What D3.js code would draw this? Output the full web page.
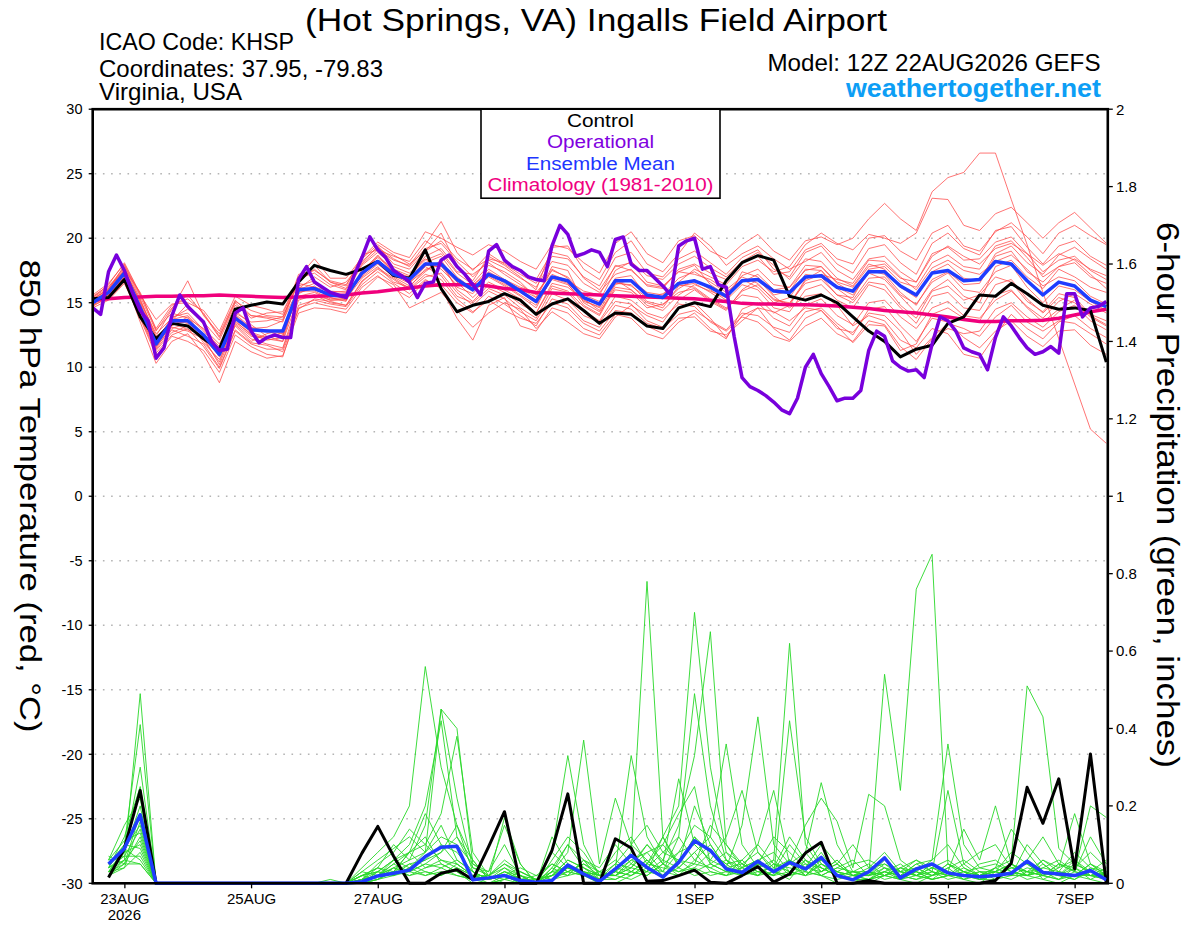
<!DOCTYPE html>
<html>
<head>
<meta charset="utf-8">
<script src="https://cdn.jsdelivr.net/npm/d3@7"></script>
<style>
body { margin: 0; background: #fff; }
svg { display: block; font-family: "Liberation Sans", Arial, sans-serif; }
</style>
</head>
<body>
<div id="chart"></div>
<script>
var width = 1200;
var height = 927;

// GEFS run 12Z 22AUG2026, 384 h
var runStart = Date.UTC(2026, 7, 22, 12);
var HOUR = 3600 * 1000;

var tempHours = d3.range(0, 385, 6);     // 65 steps
var operHours = d3.range(0, 385, 3);     // 129 steps (operational is 3-hourly)
var precipHours = d3.range(6, 385, 6);   // 64 steps

var tickDates = [
    new Date(Date.UTC(2026, 7, 23)), new Date(Date.UTC(2026, 7, 25)),
    new Date(Date.UTC(2026, 7, 27)), new Date(Date.UTC(2026, 7, 29)),
    new Date(Date.UTC(2026, 8, 1)), new Date(Date.UTC(2026, 8, 3)),
    new Date(Date.UTC(2026, 8, 5)), new Date(Date.UTC(2026, 8, 7))
];
var tempTicks = d3.range(-30, 31, 5);
var precipTicks = d3.range(0, 2.01, 0.2);

// 850 hPa temperature (C)
var tempControl = [15.3,15.4,16.8,13.9,12.2, 13.4,13.2,12.2,11.4,14.5, 14.8,15.05,14.9,16.6,17.9,
    17.5,17.2,17.6,18.2,17.1, 16.9,19.1,16.1,14.3,14.8, 15.1,15.7,15.2,14.1,14.9,
    15.3,14.4,13.4,14.2,14.1, 13.2,13.0,14.6,15.0,14.7, 16.7,18.1,18.65,18.3,15.5,
    15.2,15.6,15.0,13.9,12.8, 12.0,10.8,11.4,11.7,13.4, 13.9,15.6,15.5,16.5,15.7,
    14.8,14.5,14.6,14.4,10.4];

var tempMean = [15.0,15.8,17.3,14.6,11.8, 13.6,13.6,12.5,11.0,13.8, 12.9,12.8,12.8,16.0,16.1,
    15.6,15.5,17.3,18.2,17.2, 16.8,18.0,18.0,16.8,16.0, 17.2,16.7,15.9,15.1,17.0,
    16.7,15.4,14.9,16.7,16.7, 15.6,15.4,16.5,16.7,16.2, 15.5,16.7,16.8,15.9,15.8,
    17.0,17.1,16.2,15.9,17.4, 17.4,16.3,15.6,17.3,17.5, 16.7,16.8,18.2,18.0,16.7,
    15.6,16.6,16.3,15.2,14.7];

var tempClimo = [15.2,15.3,15.4,15.45,15.5, 15.5,15.55,15.55,15.6,15.55, 15.5,15.45,15.4,15.45,15.5,
    15.55,15.6,15.75,15.85,16.0, 16.15,16.3,16.4,16.4,16.4, 16.3,16.1,16.0,15.8,15.75,
    15.7,15.65,15.6,15.55,15.5, 15.45,15.4,15.35,15.3,15.2, 15.1,14.95,14.9,14.9,14.85,
    14.85,14.8,14.75,14.65,14.55, 14.4,14.3,14.2,14.05,13.9, 13.7,13.55,13.55,13.6,13.6,
    13.65,13.8,14.05,14.3,14.5];

var tempOper = [14.6,14.1,17.4,18.7,17.5,15.8,14.4,13.6,10.7,11.5,
    14.0,15.6,14.7,14.1,13.5,12.0,11.3,11.4,14.2,14.6,
    12.8,11.9,12.3,12.5,12.3,12.3,16.8,17.8,16.6,16.2,
    15.8,15.6,15.4,17.1,18.5,20.1,19.1,18.5,17.5,17.1,
    16.6,15.4,16.5,16.6,18.3,18.7,17.8,17.2,16.4,15.6,
    19.0,19.5,18.3,17.8,17.5,17.0,16.8,16.7,19.4,21.0,
    20.3,18.6,18.8,19.1,18.9,17.8,19.9,20.1,18.0,17.5,
    17.5,16.9,16.3,15.6,19.4,19.8,20.0,17.6,17.8,16.4,
    16.2,12.4,9.2,8.5,8.2,7.8,7.3,6.7,6.4,7.6,
    10.0,11.0,9.5,8.5,7.4,7.6,7.6,8.2,11.3,12.8,
    12.4,10.5,10.0,9.7,9.8,9.2,11.8,13.9,13.6,12.8,
    11.5,11.2,11.0,9.8,12.3,13.9,13.2,12.3,11.5,11.0,
    11.2,11.6,11.1,15.7,15.7,13.9,14.6,14.7,15.1];

var tempMembers = [
    [15.4,16.2,17.8,15.3,12.4, 14.5,16.7,14.0,12.6,15.2, 14.0,13.8,13.5,16.9,17.3, 16.4,16.0,18.0,19.1,18.3, 17.9,19.5,21.3,18.9,17.5, 18.8,18.0,17.2,16.5,18.6, 18.4,17.0,16.3,18.5,18.9, 17.3,17.0,18.4,19.0,18.1, 17.2,18.5,19.1,17.6,17.0, 18.9,19.4,18.0,17.3,19.2, 19.5,18.1,17.2,19.6,20.4, 19.2,18.7,20.6,20.9,19.3, 18.0,19.4,19.8,18.6,17.9],
    [14.8,15.3,16.6,13.8,10.9, 12.4,12.0,11.3,9.6,12.5, 11.6,11.0,10.8,14.6,15.0, 14.7,14.5,16.2,17.1,16.1, 15.4,16.7,16.4,15.0,14.2, 15.5,14.9,14.0,13.2,15.3, 14.9,13.6,13.1,14.8,14.5, 13.4,13.0,14.1,14.4,13.6, 12.9,14.2,14.0,13.1,12.7, 14.3,14.6,13.4,12.5,14.5, 14.7,13.2,12.0,13.8,13.5, 12.3,11.5,12.8,13.6,12.4, 11.6,12.8,12.9,11.7,11.0],
    [15.1,15.9,17.5,14.2,11.6, 13.0,13.4,12.1,10.4,13.6, 12.5,12.3,12.5,15.7,16.3, 15.4,15.1,17.6,18.5,17.5, 16.9,18.6,19.2,17.7,16.5, 17.9,17.4,16.6,15.4,17.8, 17.5,15.0,14.3,16.0,15.8, 14.6,14.9,15.8,16.1,15.2, 14.5,15.9,16.4,15.3,14.9, 16.8,17.5,16.1,15.2,16.9, 17.0,15.6,14.9,16.6,17.3, 16.0,15.8,17.4,17.9,16.2, 15.0,16.3,16.0,15.1,14.4],
    [15.6,16.5,18.0,15.6,13.7, 14.9,15.0,14.4,12.8,15.5, 14.8,14.5,14.1,17.0,18.4, 16.9,16.9,18.5,19.7,18.9, 18.5,20.5,20.0,19.3,18.7, 19.5,19.0,18.2,17.6,19.5, 19.2,18.1,17.3,19.6,20.5, 18.8,18.1,19.8,20.2,19.0, 18.4,19.5,20.3,19.0,18.3, 19.8,20.1,19.5,20.0,21.5, 22.7,21.5,20.6,23.6,24.7, 25.1,26.6,26.6,23.0,19.5, 15.8,12.2,8.7,5.2,4.1],
    [15.2,15.6,16.9,13.5,10.3, 12.0,12.6,11.0,8.8,12.0, 11.2,10.7,10.9,14.2,14.6, 14.5,14.2,15.8,17.0,16.4, 14.6,15.2,15.8,14.4,13.1, 14.2,15.0,14.5,13.0,14.3, 13.5,12.6,12.2,13.9,14.8, 14.0,13.5,15.2,16.0,15.1, 14.4,16.0,16.8,15.5,14.6, 15.5,15.7,14.8,13.2,14.0, 13.6,12.1,11.5,13.0,12.6, 11.0,10.7,12.5,14.1,13.0, 12.2,13.5,14.0,13.0,12.3],
    [14.9,15.7,17.1,14.9,12.0, 13.9,14.2,12.9,11.6,14.4, 13.3,12.4,12.0,16.3,16.7, 15.8,15.9,17.0,18.0,17.0, 16.3,17.4,18.3,16.6,15.4, 16.6,16.0,15.3,14.2,16.5, 16.2,15.2,14.6,16.8,16.0, 15.0,14.6,16.3,16.5,15.8, 15.0,17.4,17.0,15.6,15.9, 17.6,17.5,16.2,15.6,17.3, 16.8,15.5,14.2,16.0,16.8, 15.5,15.0,17.8,18.3,17.0, 16.1,17.6,17.0,16.2,15.8],
    [15.3,16.0,17.6,15.8,12.9, 14.2,13.8,13.0,11.8,14.2, 13.5,13.6,13.9,16.5,16.2, 15.9,15.8,17.9,18.9,17.8, 17.3,18.4,17.6,16.4,16.3, 17.6,16.8,16.2,15.8,17.2, 16.7,15.9,15.6,17.9,17.5, 16.4,16.2,17.4,17.2,16.8, 16.0,17.0,16.5,15.2,15.0, 16.5,16.8,15.6,15.4,17.6, 17.8,16.6,16.2,18.1,18.7, 17.8,17.6,19.4,19.8,18.5, 17.0,17.8,18.4,17.6,17.1],
    [15.0,15.4,16.8,14.0,11.3, 12.7,13.2,12.3,10.2,13.3, 12.2,11.8,11.5,15.2,15.6, 15.0,14.8,16.7,17.6,16.8, 16.0,17.0,17.3,15.8,14.8, 15.9,15.3,14.3,13.6,15.7, 15.2,14.0,13.5,15.1,14.9, 13.6,13.1,14.6,15.0,13.8, 12.3,14.0,14.6,13.0,12.1, 13.8,14.4,13.2,11.9,13.3, 13.2,11.3,11.8,14.1,14.6, 13.8,13.6,15.6,16.0,14.6, 13.5,14.5,15.2,14.0,13.3],
    [15.5,16.3,17.4,15.1,12.6, 13.8,14.5,13.5,12.1,14.8, 14.0,13.9,13.7,17.2,17.5, 16.7,16.4,18.2,19.3,18.4, 17.8,19.2,19.6,18.2,17.0, 18.3,17.7,16.9,16.2,18.2, 17.9,16.5,15.8,17.2,17.6, 16.3,16.1,17.6,18.0,17.3, 16.8,18.1,18.6,17.2,17.4, 19.1,19.6,18.4,18.0,20.0, 20.2,19.0,18.3,20.4,21.0, 19.4,19.0,20.5,21.2,20.1, 18.8,20.4,21.0,20.2,19.5],
    [14.7,15.5,16.9,14.5,11.7, 13.3,13.6,11.9,10.6,13.2, 12.0,12.6,12.9,15.5,15.8, 15.2,15.3,16.9,17.8,16.6, 16.2,17.6,17.9,16.2,15.7, 17.1,16.4,15.6,14.8,16.9, 16.5,14.8,14.1,16.4,16.8, 15.8,15.6,16.9,17.4,16.6, 15.8,16.8,16.2,15.0,15.4, 17.2,17.0,15.6,15.0,16.6, 16.4,14.8,13.8,15.9,16.3, 15.2,15.6,17.0,16.6,15.1, 14.3,15.7,15.4,14.1,13.6],
    [15.2,15.8,17.2,14.4,11.9, 13.1,12.8,12.2,10.9,13.5, 12.6,12.1,12.3,15.9,15.9, 15.3,15.4,17.1,18.2,17.1, 16.5,17.8,17.1,15.5,15.0, 16.1,15.6,14.6,13.8,16.1, 15.8,14.4,13.6,15.5,15.2, 14.2,13.8,14.9,14.7,13.5, 12.8,13.9,13.5,12.4,12.0, 13.2,13.8,12.6,12.0,13.6, 13.3,11.6,10.6,12.2,13.0, 12.6,12.8,14.5,15.0,13.9, 13.1,14.3,14.8,13.6,12.9],
    [15.3,16.1,17.7,15.0,12.2, 13.6,14.9,13.3,11.2,14.0, 13.0,13.1,13.6,16.1,17.0, 16.2,16.6,18.1,19.4,18.0, 17.6,19.0,20.4,17.9,16.7, 18.6,17.9,17.0,16.0,19.3, 19.4,17.6,16.8,18.9,19.8, 18.0,17.4,18.8,20.4,19.4, 17.9,18.8,19.4,18.4,17.6, 18.2,18.9,17.5,16.8,18.4, 18.6,17.4,16.6,18.8,19.3, 18.3,18.4,19.7,20.1,18.8, 17.4,18.3,18.6,17.5,16.8],
    [14.6,15.2,16.5,13.9,11.1, 12.5,13.0,11.6,9.9,12.8, 11.8,11.4,11.4,14.8,15.2, 14.9,14.7,16.4,17.4,16.5, 15.7,16.8,16.1,13.8,12.1, 14.8,15.4,13.2,12.8,14.6, 14.2,13.0,12.5,14.1,13.8, 12.6,12.2,13.5,14.2,13.0, 12.2,14.5,15.0,13.8,13.2, 14.8,15.3,14.0,13.3,15.0, 15.2,13.9,13.0,14.6,15.1, 14.0,13.8,15.2,15.9,14.7, 13.8,15.1,15.7,14.9,14.2],
    [15.1,16.0,17.9,15.5,12.8, 14.6,15.6,14.1,12.3,15.0, 13.8,14.2,14.3,16.8,17.9, 16.6,16.3,18.7,19.1,18.6, 18.2,19.8,19.0,17.4,17.2, 18.1,17.2,16.4,15.6,17.5, 17.0,15.6,15.1,17.5,18.2, 17.1,16.8,18.0,18.6,17.7, 17.0,18.2,18.9,17.9,16.8, 18.4,18.2,16.9,16.3,18.0, 17.6,16.2,15.4,17.4,18.0, 16.9,16.7,18.8,19.4,18.1, 17.2,18.7,19.3,18.4,17.6],
    [15.0,15.6,17.0,14.6,11.6, 13.4,13.5,12.6,11.3,13.9, 12.8,12.9,12.6,16.0,16.5, 15.7,15.2,17.4,18.7,17.3, 16.8,18.1,18.6,17.0,16.1, 17.4,16.7,16.1,15.4,17.6, 16.9,15.4,14.8,16.9,17.1, 15.5,15.3,16.6,17.6,17.0, 16.4,17.8,18.3,17.4,17.8, 19.5,20.4,19.6,19.1,20.3, 20.0,19.6,20.4,23.1,23.0, 21.0,20.6,21.9,22.4,21.2, 20.0,21.2,22.0,20.8,19.6],
    [14.9,15.9,17.3,14.8,12.1, 13.7,14.0,12.8,11.4,14.1, 13.1,12.8,12.4,16.2,16.0, 15.6,15.5,17.3,18.3,17.4, 17.0,17.9,17.8,16.6,15.9, 17.0,16.3,15.5,14.6,17.0, 16.6,15.3,14.4,16.5,16.4, 15.1,14.8,16.1,16.8,16.0, 15.2,16.4,16.0,14.6,14.3, 16.0,16.4,15.2,14.6,16.4, 16.0,14.6,13.4,15.5,15.8, 14.6,14.4,16.4,16.8,15.3, 14.2,15.4,15.0,13.9,13.2],
    [15.2,16.1,17.5,15.2,12.3, 13.5,12.9,12.5,11.0,13.7, 12.7,12.3,12.7,15.8,16.1, 15.5,15.6,17.2,18.6,17.6, 17.1,18.3,18.8,17.3,16.4, 17.3,16.5,15.8,15.0,16.8, 16.4,15.1,14.7,16.6,16.3, 15.4,15.7,16.4,16.2,15.3, 14.6,15.6,15.4,14.2,14.8, 16.7,17.2,16.8,16.5,18.3, 18.2,17.0,16.0,17.7,18.3, 17.5,17.2,18.2,18.7,17.6, 16.3,17.0,16.7,15.5,14.9],
    [15.0,15.5,17.0,14.1,11.4, 12.9,12.4,11.8,10.0,12.9, 11.9,11.7,11.2,14.5,15.3, 15.1,14.8,16.6,17.7,16.9, 16.1,17.2,16.8,15.3,14.3, 15.2,14.4,13.8,13.4,15.0, 14.6,13.4,12.8,14.4,14.2, 13.2,12.6,13.8,13.9,12.8, 12.5,13.6,14.6,14.3,13.6, 14.6,14.4,13.0,12.7,14.2, 14.0,12.8,11.0,12.3,13.4, 13.0,12.4,13.9,14.8,13.5, 12.8,13.6,13.4,12.6,11.8],
    [15.4,16.4,18.1,15.7,13.0, 14.8,15.3,14.2,12.4,15.1, 14.4,14.0,13.9,16.6,17.6, 16.6,16.1,18.4,19.5,18.7, 18.0,19.0,19.8,18.4,17.6, 18.4,18.1,17.4,16.8,18.9, 18.6,16.9,16.0,17.8,18.1, 16.6,16.3,17.4,17.9,16.4, 15.6,17.1,17.6,16.4,16.2, 17.9,17.8,16.5,15.8,17.5, 17.2,15.8,14.8,16.8,17.4, 16.4,16.5,18.6,19.0,17.4, 16.6,17.8,18.1,17.0,16.5],
    [14.8,15.6,17.0,14.3,11.5, 13.2,13.9,12.4,10.8,13.4, 12.4,12.2,12.0,15.4,15.6, 15.2,15.2,17.4,18.2,17.2, 16.6,17.5,18.2,16.0,15.1, 16.4,15.8,14.9,14.2,16.3, 15.9,14.7,14.0,16.2,16.0, 14.8,14.4,15.6,16.4,15.9, 15.4,16.6,17.2,16.0,16.2, 17.5,17.8,16.6,16.2,17.8, 18.0,16.9,16.6,18.6,19.4, 18.6,18.0,19.2,19.6,18.8, 17.9,18.8,18.3,17.2,16.1]
];

// 6-hour precipitation (inches)
var precipControl = [0.015,0.09,0.24,0,0,0,0,0, 0,0,0,0,0,0,0,0,
    0.078,0.147,0.07,0,0,0.026,0.035,0.009, 0.095,0.185,0,0,0.085,0.231,0,0,
    0.115,0.091,0.005,0.007,0.02,0.034,0.003,0, 0.02,0.043,0.003,0.024,0.078,0.106,0,0,
    0.007,0,0,0,0,0,0,0, 0.007,0.052,0.248,0.155,0.27,0.037,0.334,0];

var precipMean = [0.05,0.09,0.177,0,0,0,0,0, 0,0,0,0,0,0,0,0,
    0.004,0.019,0.026,0.034,0.069,0.093,0.096,0.009, 0.014,0.02,0.007,0.003,0.007,0.047,0.024,0.005,
    0.037,0.072,0.041,0.016,0.054,0.11,0.085,0.037, 0.028,0.057,0.03,0.054,0.037,0.067,0.02,0.009,
    0.03,0.066,0.014,0.037,0.05,0.027,0.02,0.017, 0.02,0.026,0.057,0.028,0.024,0.02,0.033,0.009];

var precipMembers = [
    [.03,.06,.49,0,0,0,0,0, 0,0,0,0,0,0,0,0, 0,.01,.03,.08,.12,.05,.03,0, 0,.01,0,0,.04,.10,.06,.01, .03,.08,.78,.12,.05,.20,.10,.04, .02,.05,.03,.01,.06,.02,0,0, .01,.03,.01,0,.02,.04,.01,0, .03,.02,.06,.01,0,.02,.05,.02],
    [.05,.10,.41,0,0,0,0,0, 0,0,0,0,0,0,0,0, .01,.02,.06,.04,.08,.45,.40,.05, .02,0,0,0,.01,.04,.02,0, 0,.02,.05,.12,.20,.70,.30,.08, .03,.02,.06,.62,.10,.04,.02,.01, 0,.02,.01,.03,.01,.02,.03,.01, .01,.03,.02,.05,.02,.01,.03,.01],
    [.02,.08,.30,0,0,0,0,0, 0,0,0,0,0,0,0,0, .04,.08,.12,.20,.56,.30,.15,.03, .01,.02,0,0,.02,.06,.04,.01, .05,.10,.15,.08,.12,.49,.20,.06, .04,.10,.05,.03,.02,.05,.03,.02, .02,.54,.24,.76,.85,.05,.02,.01, .02,.05,.02,.03,.01,.02,.01,0],
    [.04,.12,.25,0,0,0,0,0, 0,0,0,0,0,0,0,0, .02,.04,.10,.06,.15,.45,.22,.04, .03,.15,.05,0,.08,.33,.10,.02, .02,.05,.10,.06,.15,.33,.65,.10, .05,.08,.04,.12,.06,.03,.05,.02, .04,.05,.02,.03,.06,.36,.10,.04, .03,.08,.05,.02,.04,.06,.02,.01],
    [.06,.15,.22,0,0,0,0,0, 0,0,0,0,0,0,0,0, 0,.03,.06,.10,.20,.42,.12,.06, .01,.04,.02,0,.03,.08,.37,.05, .22,.10,.06,.03,.08,.15,.12,.36, .10,.04,.02,.42,.12,.05,.02,.03, .02,.04,.01,.02,.03,.24,.05,.02, .04,.14,.08,.03,.02,.05,.03,.02],
    [.03,.08,.20,0,0,0,0,0, 0,0,0,0,0,0,0,0, .01,.05,.08,.14,.10,.18,.38,.08, .02,.05,.03,.01,.02,.04,.03,.01, .04,.33,.12,.05,.27,.10,.06,.04, .15,.43,.10,.05,.08,.26,.10,.03, .02,.06,.03,.02,.05,.03,.14,.06, .20,.05,.03,.02,.01,.04,.02,.02],
    [.07,.05,.18,0,0,0,0,0, 0,0,0,0,0,0,0,0, .02,.01,.04,.06,.08,.12,.10,.05, .03,.10,.02,0,.12,.05,.02,.01, .03,.06,.08,.10,.05,.12,.08,.05, .06,.10,.24,.05,.15,.22,.16,.04, .23,.20,.06,.03,.02,.05,.03,.02, .04,.06,.51,.43,.09,.05,.03,.02],
    [.02,.04,.16,0,0,0,0,0, 0,0,0,0,0,0,0,0, 0,.02,.05,.08,.18,.10,.05,.02, .01,.17,.05,0,.06,.12,.08,.02, .05,.04,.10,.05,.08,.10,.06,.12, .24,.08,.03,.06,.04,.10,.05,.10, .04,.08,.03,.06,.04,.02,.05,.08, .10,.04,.03,.06,.04,.18,.05,.03],
    [.05,.09,.15,0,0,0,0,0, 0,0,0,0,0,0,0,0, .01,.03,.02,.05,.06,.08,.12,.04, .02,.06,.03,.01,.02,.06,.04,.02, .08,.12,.05,.10,.18,.25,.05,.03, .04,.06,.08,.03,.05,.04,.02,.03, .05,.02,.04,.03,.01,.04,.06,.03, .03,.02,.06,.12,.05,.03,.20,.17],
    [.04,.07,.14,0,0,0,0,0, 0,0,0,0,0,0,.01,0, .03,.06,.09,.12,.08,.15,.06,.03, .01,.03,.01,0,.03,.02,.06,.03, .02,.04,.03,.06,.04,.08,.12,.06, .03,.05,.12,.08,.04,.06,.03,.01, .01,.03,.02,.05,.06,.10,.04,.02, .03,.05,.03,.04,.06,.03,.12,.05],
    [.06,.11,.13,0,0,0,0,0, 0,0,0,0,0,0,0,0, .02,.04,.03,.08,.10,.06,.04,.02, .02,.04,.01,.02,.05,.03,.02,.01, .01,.03,.06,.02,.06,.03,.05,.08, .05,.03,.02,.06,.02,.03,.05,.02, .03,.01,.02,.05,.03,.02,.01,.03, .02,.04,.05,.02,.03,.08,.04,.03],
    [.03,.05,.12,0,0,0,0,0, 0,0,0,0,0,0,0,0, 0,.01,.02,.04,.06,.10,.08,.03, .01,.02,.01,0,.08,.04,.03,.02, .03,.02,.04,.08,.06,.05,.15,.10, .04,.06,.03,.10,.05,.02,.04,.03, .02,.03,.05,.02,.04,.03,.02,.02, .03,.02,.10,.05,.02,.04,.08,.04],
    [.02,.06,.11,0,0,0,0,0, 0,0,0,0,0,0,0,0, .01,.02,.04,.03,.05,.08,.15,.06, .01,.03,.02,.01,.03,.10,.04,.02, .02,.04,.08,.03,.12,.06,.04,.02, .06,.02,.05,.04,.03,.08,.02,.01, .01,.04,.02,.01,.02,.05,.03,.04, .05,.03,.02,.06,.03,.02,.05,.02],
    [.05,.08,.10,0,0,0,0,0, 0,0,0,0,0,0,0,0, .02,.03,.06,.08,.04,.06,.05,.02, 0,.02,.04,.02,.01,.03,.05,.03, .06,.03,.02,.05,.03,.04,.08,.05, .02,.04,.06,.02,.08,.03,.06,.02, .03,.02,.01,.04,.02,.03,.02,.01, .02,.04,.03,.02,.05,.03,.02,.04],
    [.04,.10,.09,0,0,0,0,0, 0,0,0,0,0,0,0,0, 0,.01,.03,.02,.04,.05,.03,.01, .02,.05,.02,0,.04,.02,.06,.04, .10,.05,.03,.12,.04,.08,.03,.02, .03,.04,.02,.05,.02,.06,.03,.05, .06,.04,.03,.02,.04,.06,.03,.01, .04,.02,.04,.03,.02,.06,.03,.06],
    [.03,.04,.08,0,0,0,0,0, 0,0,0,0,0,0,0,0, .01,.02,.05,.03,.02,.04,.06,.03, .01,.02,0,0,.02,.05,.03,.01, .04,.03,.06,.02,.05,.12,.05,.03, .02,.03,.04,.06,.03,.02,.04,.06, .02,.05,.03,.02,.01,.02,.04,.02, .03,.05,.02,.04,.03,.02,.03,.02],
    [.06,.07,.07,0,0,0,0,0, 0,0,0,0,0,0,0,0, .03,.02,.03,.05,.03,.02,.04,.02, .01,.03,.01,.01,.05,.03,.02,.03, .02,.06,.04,.03,.02,.06,.10,.04, .05,.03,.02,.03,.06,.04,.02,.03, .03,.02,.04,.06,.03,.01,.02,.05, .06,.03,.01,.02,.05,.04,.01,.03],
    [.02,.05,.05,0,0,0,0,0, 0,0,0,0,0,0,0,0, .01,.04,.02,.03,.05,.04,.02,.01, 0,.01,.02,0,.03,.04,.02,.01, .03,.02,.05,.04,.03,.05,.04,.06, .02,.05,.03,.02,.04,.03,.06,.02, .01,.02,.03,.04,.02,.03,.01,.02, .02,.01,.03,.02,.01,.03,.02,.01],
    [.04,.06,.05,0,0,0,0,0, 0,0,0,0,0,0,0,0, .02,.03,.02,.04,.02,.03,.02,.01, .02,.01,.03,.01,.02,.03,.05,.02, .01,.03,.02,.05,.02,.04,.02,.03, .03,.02,.05,.03,.02,.05,.03,.02, .02,.03,.02,.01,.03,.02,.02,.03, .01,.02,.02,.03,.02,.01,.04,.02],
    [.03,.09,.06,0,0,0,0,0, 0,0,0,0,0,0,0,0, 0,.02,.04,.02,.03,.02,.05,.02, .01,.02,.01,0,.01,.02,.03,.02, .02,.01,.03,.02,.04,.02,.03,.02, .04,.02,.03,.02,.03,.02,.01,.02, .01,.02,.04,.02,.01,.02,.03,.02, .02,.03,.02,.01,.03,.02,.02,.03]
];

// plot frame
var plotLeft = 92.7, plotRight = 1107.8, plotTop = 109.2, plotBottom = 883.3;

var svg = d3.select("#chart").append("svg")
    .attr("width", width)
    .attr("height", height);

var x = d3.scaleUtc()
    .domain([new Date(runStart), new Date(runStart + 384 * HOUR)])
    .range([plotLeft, 1106.3]);
var yT = d3.scaleLinear().domain([-30, 30]).range([plotBottom, plotTop]);
var yP = d3.scaleLinear().domain([0, 2]).range([plotBottom, plotTop]);

function hourDate(h) { return new Date(runStart + h * HOUR); }

var tempLine = function(hours) {
    return d3.line()
        .x(function(d, i) { return x(hourDate(hours[i])); })
        .y(function(d) { return yT(d); });
};
var precipLine = d3.line()
    .x(function(d, i) { return x(hourDate(precipHours[i])); })
    .y(function(d) { return yP(d); });

// dotted grid
svg.append("g")
    .selectAll("line")
    .data(tempTicks.filter(function(t) { return t > -30 && t < 30; }))
    .enter().append("line")
    .attr("x1", plotLeft + 2)
    .attr("x2", plotRight - 2)
    .attr("y1", function(d) { return yT(d); })
    .attr("y2", function(d) { return yT(d); })
    .attr("stroke", "#b4b4b4")
    .attr("stroke-width", 1.6)
    .attr("stroke-dasharray", "1.6,6.6");

// ensemble members
svg.append("g")
    .selectAll("path")
    .data(tempMembers)
    .enter().append("path")
    .attr("d", tempLine(tempHours))
    .attr("fill", "none")
    .attr("stroke", "#ff4848")
    .attr("stroke-opacity", 0.85)
    .attr("stroke-width", 0.9);

svg.append("g")
    .selectAll("path")
    .data(precipMembers)
    .enter().append("path")
    .attr("d", precipLine)
    .attr("fill", "none")
    .attr("stroke", "#28d828")
    .attr("stroke-width", 0.9);

// precip control and mean
svg.append("path").datum(precipControl)
    .attr("d", precipLine)
    .attr("fill", "none").attr("stroke", "#000").attr("stroke-width", 3)
    .attr("stroke-linejoin", "round");
svg.append("path").datum(precipMean)
    .attr("d", precipLine)
    .attr("fill", "none").attr("stroke", "#1f3cff").attr("stroke-width", 3.5)
    .attr("stroke-linejoin", "round");

// temperature climatology, control, mean, operational
svg.append("path").datum(tempClimo)
    .attr("d", tempLine(tempHours))
    .attr("fill", "none").attr("stroke", "#f0007c").attr("stroke-width", 3.5);
svg.append("path").datum(tempControl)
    .attr("d", tempLine(tempHours))
    .attr("fill", "none").attr("stroke", "#000").attr("stroke-width", 3)
    .attr("stroke-linejoin", "round");
svg.append("path").datum(tempMean)
    .attr("d", tempLine(tempHours))
    .attr("fill", "none").attr("stroke", "#1f3cff").attr("stroke-width", 3.5)
    .attr("stroke-linejoin", "round");
svg.append("path").datum(tempOper)
    .attr("d", tempLine(operHours))
    .attr("fill", "none").attr("stroke", "#7800dc").attr("stroke-width", 3.5)
    .attr("stroke-linejoin", "round");

// frame
svg.append("rect")
    .attr("x", plotLeft).attr("y", plotTop)
    .attr("width", plotRight - plotLeft).attr("height", plotBottom - plotTop)
    .attr("fill", "none").attr("stroke", "#000").attr("stroke-width", 2.6);

// left axis
var leftAxis = svg.append("g");
leftAxis.selectAll("line").data(tempTicks).enter().append("line")
    .attr("x1", plotLeft - 4).attr("x2", plotLeft)
    .attr("y1", function(d) { return yT(d); }).attr("y2", function(d) { return yT(d); })
    .attr("stroke", "#000").attr("stroke-width", 1.3);
leftAxis.selectAll("text").data(tempTicks).enter().append("text")
    .attr("x", 82.5)
    .attr("y", function(d) { return yT(d); })
    .attr("dy", "0.36em")
    .attr("text-anchor", "end")
    .style("font-size", "14.5px")
    .text(function(d) { return d; });

// right axis
var rightAxis = svg.append("g");
rightAxis.selectAll("line").data(precipTicks).enter().append("line")
    .attr("x1", plotRight).attr("x2", plotRight + 5)
    .attr("y1", function(d) { return yP(d); }).attr("y2", function(d) { return yP(d); })
    .attr("stroke", "#000").attr("stroke-width", 1.3);
rightAxis.selectAll("text").data(precipTicks).enter().append("text")
    .attr("x", 1116)
    .attr("y", function(d) { return yP(d); })
    .attr("dy", "0.36em")
    .style("font-size", "15px")
    .text(function(d) { return d3.format("~g")(+d.toFixed(1)); });

// bottom axis
var fmt = d3.utcFormat("%-d%b");
var bottomAxis = d3.axisBottom(x)
    .tickValues(tickDates)
    .tickSize(5)
    .tickPadding(5)
    .tickFormat(function(d) { return fmt(d).toUpperCase(); });
var bx = svg.append("g")
    .attr("transform", "translate(0," + plotBottom + ")")
    .call(bottomAxis);
bx.select(".domain").remove();
bx.selectAll("line").attr("stroke-width", 1.3);
bx.selectAll("text")
    .style("font-size", "15px")
    .style("font-family", "\"Liberation Sans\", Arial, sans-serif")
    .attr("fill", "#000");
svg.append("text")
    .attr("x", x(tickDates[0]))
    .attr("y", 920)
    .attr("text-anchor", "middle")
    .style("font-size", "15px")
    .text("2026");

// axis titles
svg.append("text")
    .attr("transform", "translate(20,496) rotate(90)")
    .attr("text-anchor", "middle")
    .attr("textLength", 473)
    .attr("lengthAdjust", "spacingAndGlyphs")
    .style("font-size", "30px")
    .text("850 hPa Temperature (red, °C)");
svg.append("text")
    .attr("transform", "translate(1157,495) rotate(90)")
    .attr("text-anchor", "middle")
    .attr("textLength", 546)
    .attr("lengthAdjust", "spacingAndGlyphs")
    .style("font-size", "31px")
    .text("6-hour Precipitation (green, inches)");

// header
function headText(str, xPos, yPos, size, len, anchor) {
    return svg.append("text")
        .attr("x", xPos).attr("y", yPos)
        .attr("text-anchor", anchor)
        .attr("textLength", len)
        .attr("lengthAdjust", "spacingAndGlyphs")
        .style("font-size", size + "px")
        .text(str);
}
headText("(Hot Springs, VA) Ingalls Field Airport", 596, 31, 31, 582, "middle");
headText("ICAO Code: KHSP", 99, 50, 24, 195, "start");
headText("Coordinates: 37.95, -79.83", 99, 76.5, 24, 284, "start");
headText("Virginia, USA", 99, 100, 24, 143, "start");
headText("Model: 12Z 22AUG2026 GEFS", 1100.5, 70.5, 24, 333, "end");
headText("weathertogether.net", 1101, 96.5, 25, 255, "end")
    .style("font-weight", "bold")
    .attr("fill", "#0d9ef5");

// legend
var legendItems = [
    { label: "Control", color: "#000000", len: 67 },
    { label: "Operational", color: "#8000e0", len: 107 },
    { label: "Ensemble Mean", color: "#2035ff", len: 149 },
    { label: "Climatology (1981-2010)", color: "#f00080", len: 226 }
];
var legend = svg.append("g").attr("class", "legend");
legend.append("rect")
    .attr("x", 481).attr("y", plotTop)
    .attr("width", 239).attr("height", 89)
    .attr("fill", "#fff").attr("stroke", "#000").attr("stroke-width", 1.6);
legend.selectAll("text")
    .data(legendItems)
    .enter().append("text")
    .attr("x", 600.5)
    .attr("y", function(d, i) { return 126.5 + i * 21.5; })
    .attr("text-anchor", "middle")
    .attr("textLength", function(d) { return d.len; })
    .attr("lengthAdjust", "spacingAndGlyphs")
    .attr("fill", function(d) { return d.color; })
    .style("font-size", "17.5px")
    .text(function(d) { return d.label; });
</script>
</body>
</html>
